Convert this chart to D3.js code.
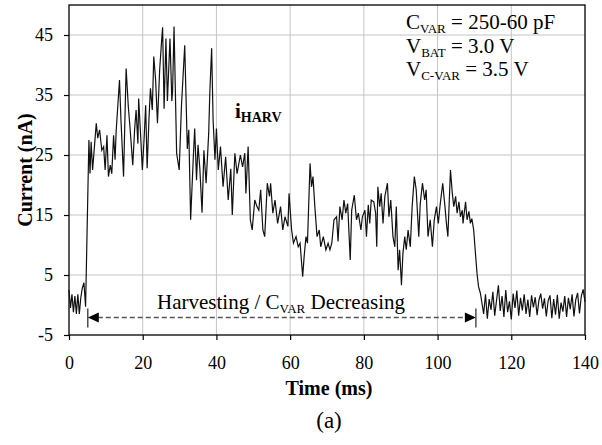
<!DOCTYPE html>
<html>
<head>
<meta charset="utf-8">
<script src="https://cdn.jsdelivr.net/npm/d3@7"></script>
<style>
  body { margin: 0; background: #fff; }
  svg { display: block; }
  svg text { font-family: "Liberation Serif", "Times New Roman", Times, serif !important; }
</style>
</head>
<body>
<svg id="chart" width="602" height="445"></svg>
<script>
// measured trace: time (ms) and harvesting current (nA)
const timeMs = [
  0, 0.4, 0.8, 1.2, 1.6, 2.0, 2.4, 2.8, 3.2, 3.6, 4.05, 4.5,
  5.4, 5.7, 6.0, 6.4, 6.9, 7.4, 7.8, 8.3, 8.9, 9.4, 9.8, 10.3, 10.7, 11.2, 11.6, 12.1, 12.5, 12.8,
  13.7, 14.1, 14.8, 15.5, 16.1, 16.6, 17.3, 17.8, 18.2, 18.7, 18.9, 19.5, 19.9, 20.4, 20.8, 21.2,
  21.7, 22.1, 22.6, 23.0, 23.5, 24.0, 24.6, 25.2, 25.4, 25.8, 26.3, 26.7, 27.4, 27.9, 28.1, 28.5,
  29.2, 29.9, 30.5, 31.4, 32.1, 32.5, 33.0, 33.7, 34.1, 34.6, 35.0, 35.5, 36.1, 36.6, 37.2, 37.9,
  38.2, 38.7, 39.1, 39.6, 40.0, 40.5, 41.1, 41.8, 42.5, 43.2, 43.9, 44.3, 45.0, 45.6, 46.5, 47.1,
  47.7, 48.0, 48.6, 49.2, 49.7, 50.4, 51.0, 51.5, 52.0, 52.6, 53.1, 53.8, 54.4, 54.7, 55.3, 55.9,
  56.6, 57.4, 58.0, 58.6, 59.4, 59.7, 60.4, 60.9, 61.6, 62.2, 62.7, 63.4, 63.8, 64.3, 64.7, 65.4,
  65.8, 66.2, 66.7, 67.3, 67.9, 68.3, 69.0, 69.7, 70.3, 70.8, 71.3, 71.9, 72.6, 73.0, 73.5, 74.1,
  74.6, 75.1, 75.6, 76.3, 76.7, 77.4, 78.0, 78.5, 79.2, 79.6, 80.3, 80.7, 81.2, 81.6, 82.0, 82.7,
  83.2, 83.5, 83.8, 84.3, 84.7, 85.2, 85.7, 86.4, 86.8, 87.3, 87.9, 88.4, 88.8, 89.3, 89.7, 90.2,
  90.6, 91.1, 91.5, 92.0, 92.6, 93.1, 93.7, 94.2, 94.9, 95.3, 95.9, 96.5, 96.9, 97.4, 98.0, 98.6,
  99.1, 99.7, 100.2, 100.7, 101.4, 102.0, 102.4, 102.8, 103.5, 104.0, 104.4, 104.9, 105.3, 105.8,
  106.2, 106.7, 106.9, 107.6, 108.0, 108.5, 108.9, 109.3, 109.8, 110.2, 110.7, 111.1, 111.6,
  112.0, 112.5, 113.0, 113.5, 114.0, 114.5, 115.0, 115.5, 116.0, 116.5, 117.0, 117.5, 118.0, 118.5,
  119.0, 119.5, 120.0, 120.5, 121.0, 121.5, 122.0, 122.5, 123.0, 123.5, 124.0, 124.5, 125.0, 125.5,
  126.0, 126.5, 127.0, 127.5, 128.0, 128.5, 129.0, 129.5, 130.0, 130.5, 131.0, 131.5, 132.0, 132.5,
  133.0, 133.5, 134.0, 134.5, 135.0, 135.5, 136.0, 136.5, 137.0, 137.5, 138.0, 138.5, 139.0, 139.5, 140.0
];
const currentNA = [
  2.5, -0.5, 1.8, -1.2, 1.5, -1.5, 1.8, -1.5, 1.2, 2.8, 3.7, -0.3,
  27.5, 21.9, 27.2, 22.5, 26.4, 30.3, 27.8, 29.2, 25.8, 26.4, 22.5, 28.3, 21.4, 23.3, 21.9, 28.3, 24.2, 29,
  37.5, 30.8, 21.4, 39.4, 33, 29.2, 23.3, 29.2, 32.5, 26.9, 34.4, 27.5, 22.5, 28, 33.3, 22.8,
  31.1, 36.1, 32.5, 41.4, 37.5, 30.3, 39.2, 44.7, 46.3, 32.7, 44.4, 34, 44.4, 34, 35.6, 46.4,
  25.3, 22.5, 33, 43.3, 26, 29.2, 14.2, 24.2, 29.4, 20.8, 26.7, 22.7, 15.4, 25.8, 20.3, 28.6,
  35.3, 42.8, 30.8, 24.2, 29.4, 22.5, 26.4, 19.7, 24.7, 17.5, 22.7, 15, 25.3, 21.9, 25, 23,
  25.3, 18.6, 26.4, 14.2, 12.5, 17.5, 16.4, 15.8, 19.2, 12.5, 11.4, 20.3, 18.1, 20.3, 15.3, 17.5,
  13.6, 16.4, 12.5, 14.7, 13.1, 18.6, 12.5, 10.3, 11.4, 9.7, 10.3, 4.7, 8.1, 11.4, 10.3, 23.6,
  19.7, 21.4, 16.4, 11.4, 12.5, 9.7, 11.4, 9.2, 10.3, 9.2, 10.3, 14.2, 14.7, 10.6, 16.4, 14.2,
  17.5, 15.3, 16.9, 7.5, 15.8, 18.3, 14.2, 15.3, 12.5, 14.7, 15.8, 11.4, 16.7, 13.6, 17.5, 17.2,
  15.3, 9.7, 19.7, 16.4, 18.6, 13.6, 18.1, 20.3, 14.7, 17.5, 11.4, 9.7, 16.4, 5.8, 9.2, 3.3,
  8.6, 11.4, 9.2, 12.5, 9.7, 16.4, 21.4, 19.2, 11.4, 16.9, 20.3, 17.5, 19.2, 11.4, 14.2, 9.7,
  14.2, 16.4, 13.6, 16.7, 20.3, 16.4, 13.6, 11.4, 22.5, 18.6, 16.4, 18.1, 15.3, 17.2,
  14.7, 15.8, 13.6, 17.2, 14.2, 15.6, 13.6, 14.4, 12.5, 9.2, 5.3, 3.1, 2,
  0.5, -1.5, 1.8, -2.3, 1.0, -0.8, 2.2, -1.8, 0.8, 3.3, -1.0, 1.5, -2.0, 2.5,
  -1.2, 0.6, -2.4, 1.9, -0.5, 2.4, -1.8, 1.2, -0.9, 1.8, -1.5, 0.9, -2.0, 1.6,
  -0.4, 1.3, -1.7, 0.8, 1.9, -0.6, 1.1, -1.9, 0.7, 1.6, -2.2, 1.0, -1.6, 1.7,
  -2.3, 0.4, -1.1, 1.5, -2.0, 1.2, -0.7, 1.8, -1.9, 0.9, 2.0, -1.4, 1.5, 2.6, 0.5
];
const xTicks = [0, 20, 40, 60, 80, 100, 120, 140];
const yTicks = [-5, 5, 15, 25, 35, 45];
const harvestSpan = [5.1, 110.4]; // ms, arrow ends
const harvestArrowLevel = -2.1;  // nA

const FONT = '"Liberation Serif", "Times New Roman", Times, serif';

const svg = d3.select('#chart');
const margin = { top: 5, right: 17, bottom: 110, left: 69 };
const W = 602, H = 445;
const iw = W - margin.left - margin.right;
const ih = H - margin.top - margin.bottom;

const x = d3.scaleLinear().domain([0, 140]).range([margin.left, margin.left + iw]);
const y = d3.scaleLinear().domain([-5, 50]).range([margin.top + ih, margin.top]);

// grid
svg.append('g')
  .selectAll('line')
  .data(xTicks.slice(1, -1))
  .join('line')
  .attr('x1', d => x(d)).attr('x2', d => x(d))
  .attr('y1', y(-5)).attr('y2', y(50))
  .attr('stroke', '#c4c4c4').attr('stroke-width', 1);
svg.append('g')
  .selectAll('line')
  .data(yTicks.slice(1))
  .join('line')
  .attr('x1', x(0)).attr('x2', x(140))
  .attr('y1', d => y(d)).attr('y2', d => y(d))
  .attr('stroke', '#c4c4c4').attr('stroke-width', 1);

// axes (plain hyphen for negatives, as in the figure)
const fmt = d => String(d);
const xAxis = svg.append('g')
  .attr('transform', `translate(0,${y(-5)})`)
  .call(d3.axisBottom(x).tickValues(xTicks).tickFormat(fmt).tickSize(5).tickPadding(16));
const yAxis = svg.append('g')
  .attr('transform', `translate(${x(0)},0)`)
  .call(d3.axisLeft(y).tickValues(yTicks).tickFormat(fmt).tickSize(5).tickPadding(11));
[xAxis, yAxis].forEach(g => {
  g.attr('font-family', FONT).attr('font-size', 18);
  g.select('.domain').remove();
  g.selectAll('.tick line').attr('stroke', '#000').attr('stroke-width', 1.2);
  g.selectAll('.tick text').attr('fill', '#000');
});

// frame
svg.append('rect')
  .attr('x', x(0)).attr('y', y(50))
  .attr('width', x(140) - x(0)).attr('height', y(-5) - y(50))
  .attr('fill', 'none').attr('stroke', '#000').attr('stroke-width', 1.3);

// trace
const pts = timeMs.map((t, i) => [t, currentNA[i]]);
svg.append('path')
  .datum(pts)
  .attr('d', d3.line().x(d => x(d[0])).y(d => y(d[1])))
  .attr('fill', 'none')
  .attr('stroke', '#111')
  .attr('stroke-width', 1.2);

// harvesting arrow
const ay = y(harvestArrowLevel);
const ax0 = x(harvestSpan[0]), ax1 = x(harvestSpan[1]);
svg.append('line')
  .attr('x1', ax0 + 10).attr('x2', ax1 - 10)
  .attr('y1', ay).attr('y2', ay)
  .attr('stroke', '#555').attr('stroke-width', 1.5)
  .attr('stroke-dasharray', '5,3');
svg.append('path')
  .attr('d', `M${ax0},${ay} L${ax0 + 11},${ay - 5} L${ax0 + 11},${ay + 5} Z`)
  .attr('fill', '#000');
svg.append('path')
  .attr('d', `M${ax1},${ay} L${ax1 - 11},${ay - 5} L${ax1 - 11},${ay + 5} Z`)
  .attr('fill', '#000');
[ax0, ax1].forEach(px => {
  svg.append('line')
    .attr('x1', px).attr('x2', px)
    .attr('y1', ay - 9).attr('y2', ay + 10)
    .attr('stroke', '#333').attr('stroke-width', 1.3);
});

function addText(attrs) {
  const t = svg.append('text').attr('font-family', FONT).attr('fill', '#000');
  Object.entries(attrs).forEach(([k, v]) => t.attr(k, v));
  return t;
}

const harvestLabel = addText({ x: 281, y: 309, 'text-anchor': 'middle', 'font-size': 21 });
harvestLabel.append('tspan').text('Harvesting / C');
harvestLabel.append('tspan').attr('dy', 4).attr('font-size', 13).text('VAR');
harvestLabel.append('tspan').attr('dy', -4).text(' Decreasing');

// i_HARV label
const iLabel = addText({ x: 235, y: 118, 'font-size': 21, 'font-weight': 'bold' });
iLabel.append('tspan').text('i');
iLabel.append('tspan').attr('dy', 4).attr('font-size', 14).text('HARV');

// parameters block
const params = [
  { main: 'C', sub: 'VAR', rest: ' = 250-60 pF' },
  { main: 'V', sub: 'BAT', rest: ' = 3.0 V' },
  { main: 'V', sub: 'C-VAR', rest: ' = 3.5 V' }
];
params.forEach((p, i) => {
  const t = addText({ x: 406, y: 29 + i * 23.5, 'font-size': 21 });
  t.append('tspan').text(p.main);
  t.append('tspan').attr('dy', 4).attr('font-size', 13).text(p.sub);
  t.append('tspan').attr('dy', -4).text(p.rest);
});

// axis titles
addText({
  transform: `translate(32,${(y(-5) + y(50)) / 2}) rotate(-90)`,
  'text-anchor': 'middle', 'font-size': 20, 'font-weight': 'bold'
}).text('Current (nA)');
addText({
  x: (x(0) + x(140)) / 2 + 2, y: 395,
  'text-anchor': 'middle', 'font-size': 20, 'font-weight': 'bold'
}).text('Time (ms)');
addText({
  x: (x(0) + x(140)) / 2 + 2, y: 428,
  'text-anchor': 'middle', 'font-size': 23
}).text('(a)');
</script>
</body>
</html>
